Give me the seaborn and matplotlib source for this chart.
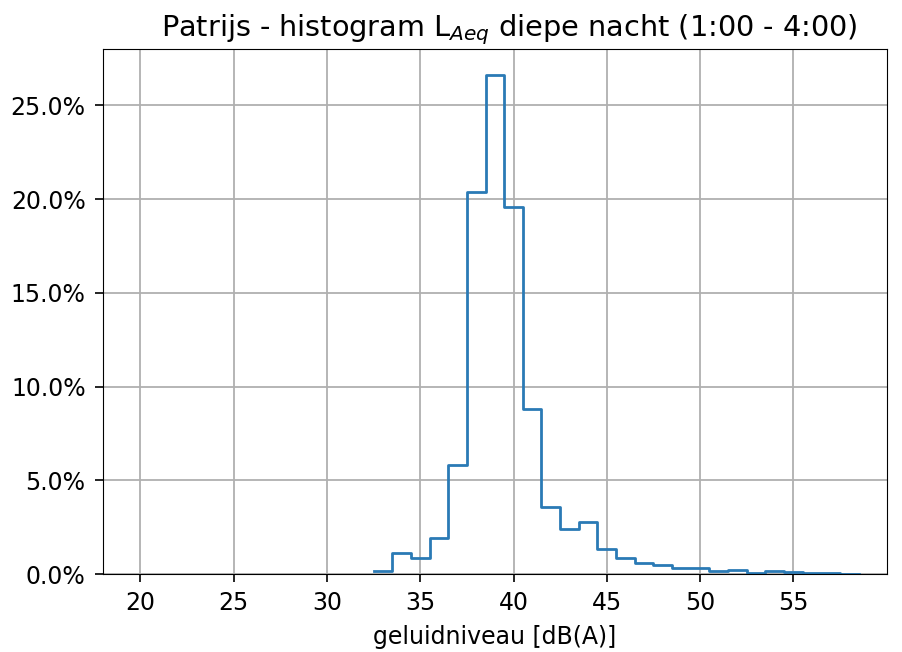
import numpy as np
import pandas as pd
import matplotlib
matplotlib.use("Agg")
import matplotlib.pyplot as plt
import seaborn as sns
from matplotlib.ticker import PercentFormatter

# bin centres (dB(A)) and share of time per 1 dB bin (%)
levels = [33, 34, 35, 36, 37, 38, 39, 40, 41, 42, 43, 44, 45, 46,
          47, 48, 49, 50, 51, 52, 53, 54, 55, 56, 57, 58]
percent = [0.18, 1.10, 0.84, 1.90, 5.81, 20.4, 26.6, 19.6, 8.81, 3.55, 2.42, 2.75, 1.31, 0.84,
           0.60, 0.48, 0.34, 0.34, 0.16, 0.23, 0.07, 0.14, 0.09, 0.06, 0.03, 0.02]
bin_edges = [32.5 + i for i in range(27)]
xticks = [20, 25, 30, 35, 40, 45, 50, 55]

df = pd.DataFrame({"level": levels, "share": percent})

plt.rcParams["font.size"] = 17

fig = plt.figure(figsize=(9.03, 6.52), dpi=100)
ax = fig.add_axes([0.114, 0.1196, 0.868, 0.805])

sns.histplot(
    data=df,
    x="level",
    weights="share",
    bins=bin_edges,
    element="step",
    fill=False,
    color="#2a7ab5",
    linewidth=2,
    ax=ax
)

ax.set_xlim(18, 60)
ax.set_ylim(0, 28)
ax.set_xticks(xticks)
ax.yaxis.set_major_formatter(PercentFormatter(xmax=100, decimals=1))
ax.tick_params(length=5.5, width=1.2, pad=7)
ax.grid(True, color="#b0b0b0", linewidth=1.3)
ax.set_axisbelow(True)
ax.set_xlabel("geluidniveau [dB(A)]", labelpad=7)
ax.set_ylabel("")
ax.set_title(r"Patrijs - histogram L$_{Aeq}$ diepe nacht (1:00 - 4:00)",
             fontsize=20.7, pad=9, x=0.518)

fig.savefig("out.png", dpi=100)
